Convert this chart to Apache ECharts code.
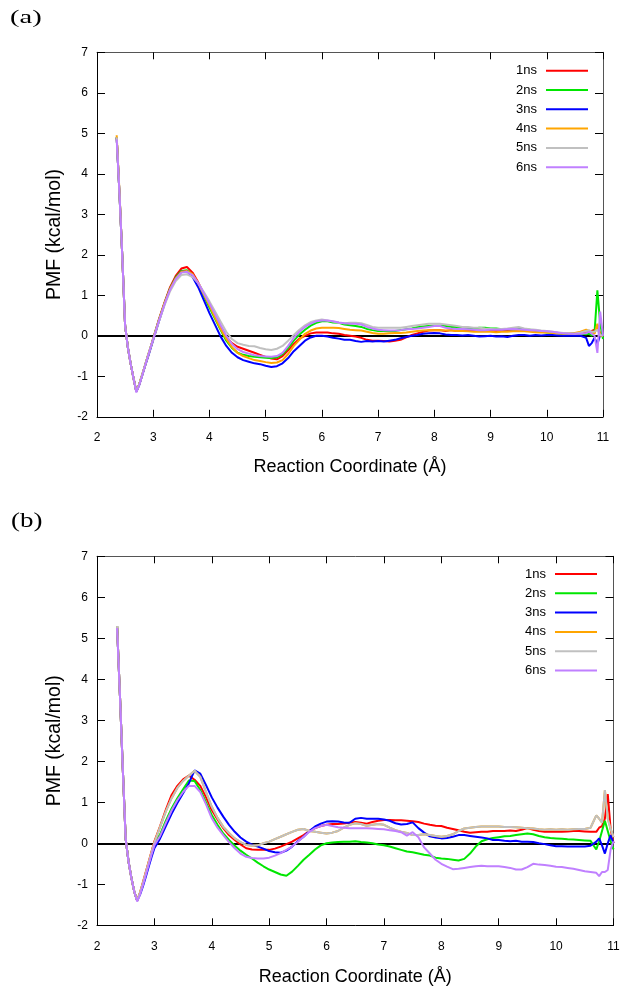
<!DOCTYPE html>
<html>
<head>
<meta charset="utf-8">
<script src="https://cdn.jsdelivr.net/npm/echarts@6/dist/echarts.min.js"></script>
<style>html,body{margin:0;padding:0;background:#fff}#c{width:630px;height:989px}</style>
</head>
<body>
<div id="c"></div>
<script>
// Shared reaction-coordinate samples (Å)
const xs = [2.35,2.4,2.45,2.5,2.55,2.6,2.65,2.7,2.75,2.8,2.85,2.9,2.95,3.0,
  3.1,3.2,3.3,3.4,3.5,3.6,3.7,3.8,3.9,4.0,
  4.1,4.2,4.3,4.4,4.5,4.6,4.7,4.8,4.9,5.0,
  5.1,5.2,5.3,5.4,5.5,5.6,5.7,5.8,5.9,6.0,
  6.1,6.2,6.3,6.4,6.5,6.6,6.7,6.8,6.9,7.0,
  7.1,7.2,7.3,7.4,7.5,7.6,7.7,7.8,7.9,8.0,
  8.1,8.2,8.3,8.4,8.5,8.6,8.7,8.8,8.9,9.0,
  9.1,9.2,9.3,9.4,9.5,9.6,9.7,9.8,9.9,10.0,
  10.1,10.2,10.3,10.4,10.5,10.6,10.7,
  10.75,10.8,10.85,10.9,10.95,11.0];

const seriesNames = ['1ns','2ns','3ns','4ns','5ns','6ns'];
const seriesColors = ['#ff0000','#00e600','#0000ff','#ffa500','#c0c0c0','#c080ff'];

// Panel (a)
const a1ns = [4.9,3.5,1.95,0.25,-0.3,-0.7,-1.05,-1.38,-1.2,-0.98,-0.75,-0.52,-0.3,-0.06,
  0.4,0.82,1.2,1.48,1.66,1.7,1.56,1.32,1.04,0.78,
  0.5,0.22,-0.03,-0.18,-0.27,-0.32,-0.37,-0.42,-0.47,-0.52,
  -0.56,-0.58,-0.5,-0.36,-0.2,-0.07,0.0,0.06,0.08,0.08,
  0.08,0.06,0.05,0.02,0.0,-0.02,-0.05,-0.1,-0.12,-0.12,
  -0.13,-0.14,-0.12,-0.1,-0.04,0.02,0.06,0.1,0.13,0.14,
  0.14,0.12,0.14,0.12,0.13,0.12,0.12,0.13,0.12,0.12,
  0.12,0.13,0.12,0.12,0.13,0.12,0.12,0.12,0.1,0.1,
  0.08,0.06,0.06,0.05,0.05,0.06,0.1,
  0.06,0.12,0.15,0.25,0.05,-0.02];
const a2ns = [4.9,3.5,1.95,0.25,-0.3,-0.7,-1.05,-1.38,-1.2,-0.98,-0.75,-0.52,-0.3,-0.07,
  0.38,0.8,1.17,1.44,1.6,1.62,1.5,1.27,0.98,0.7,
  0.42,0.14,-0.12,-0.3,-0.42,-0.47,-0.5,-0.52,-0.53,-0.54,
  -0.55,-0.53,-0.45,-0.3,-0.12,0.03,0.15,0.25,0.32,0.36,
  0.36,0.33,0.32,0.28,0.26,0.24,0.22,0.17,0.14,0.12,
  0.12,0.11,0.12,0.14,0.16,0.18,0.21,0.23,0.24,0.25,
  0.25,0.24,0.22,0.22,0.2,0.19,0.18,0.2,0.2,0.18,
  0.18,0.16,0.17,0.15,0.17,0.16,0.15,0.13,0.1,0.08,
  0.07,0.06,0.05,0.05,0.06,0.05,0.04,
  0.05,0.0,0.1,1.12,0.3,-0.08];
const a3ns = [4.9,3.5,1.95,0.25,-0.3,-0.7,-1.05,-1.38,-1.22,-1.0,-0.77,-0.55,-0.33,-0.1,
  0.35,0.78,1.15,1.42,1.58,1.6,1.45,1.2,0.88,0.56,
  0.27,-0.02,-0.25,-0.42,-0.53,-0.6,-0.64,-0.68,-0.7,-0.74,
  -0.77,-0.75,-0.68,-0.55,-0.38,-0.25,-0.12,-0.04,0.0,0.0,
  -0.02,-0.05,-0.07,-0.1,-0.1,-0.13,-0.15,-0.13,-0.14,-0.13,
  -0.14,-0.12,-0.1,-0.06,-0.03,0.0,0.02,0.05,0.06,0.07,
  0.06,0.03,0.02,0.02,0.01,0.02,0.0,-0.02,-0.01,0.0,
  -0.02,-0.01,-0.03,0.0,0.02,0.02,0.0,0.02,0.01,0.02,
  0.02,0.01,0.0,0.0,0.0,0.0,-0.05,
  -0.25,-0.18,-0.05,-0.2,0.02,0.0];
const a4ns = [4.95,3.55,1.95,0.25,-0.3,-0.7,-1.05,-1.38,-1.2,-0.98,-0.75,-0.52,-0.3,-0.08,
  0.37,0.8,1.16,1.42,1.58,1.6,1.52,1.3,1.02,0.75,
  0.45,0.17,-0.08,-0.28,-0.42,-0.5,-0.55,-0.6,-0.62,-0.65,
  -0.67,-0.66,-0.6,-0.45,-0.25,-0.1,0.05,0.13,0.18,0.2,
  0.2,0.2,0.19,0.17,0.15,0.14,0.13,0.1,0.07,0.05,
  0.05,0.06,0.07,0.07,0.08,0.1,0.12,0.13,0.14,0.14,
  0.14,0.13,0.13,0.12,0.12,0.11,0.1,0.1,0.1,0.1,
  0.09,0.1,0.1,0.11,0.12,0.11,0.1,0.09,0.08,0.08,
  0.07,0.06,0.05,0.06,0.07,0.1,0.15,
  0.12,0.08,0.05,0.3,0.0,0.0];
const a5ns = [4.9,3.5,1.95,0.25,-0.3,-0.7,-1.05,-1.38,-1.2,-0.98,-0.75,-0.52,-0.3,-0.08,
  0.35,0.75,1.1,1.35,1.5,1.52,1.45,1.3,1.08,0.85,
  0.6,0.35,0.1,-0.08,-0.18,-0.22,-0.25,-0.26,-0.3,-0.33,
  -0.35,-0.32,-0.25,-0.12,0.02,0.15,0.26,0.34,0.38,0.4,
  0.38,0.35,0.32,0.31,0.32,0.32,0.31,0.27,0.22,0.2,
  0.2,0.2,0.2,0.2,0.22,0.24,0.26,0.28,0.3,0.3,
  0.3,0.28,0.26,0.24,0.22,0.22,0.2,0.2,0.18,0.17,
  0.16,0.17,0.18,0.2,0.22,0.18,0.16,0.15,0.13,0.12,
  0.1,0.08,0.07,0.06,0.05,0.08,0.12,
  0.14,0.1,0.1,0.15,0.02,0.0];
const a6ns = [4.85,3.5,1.95,0.25,-0.3,-0.7,-1.05,-1.4,-1.22,-1.0,-0.76,-0.53,-0.3,-0.08,
  0.37,0.78,1.14,1.4,1.56,1.58,1.5,1.3,1.05,0.8,
  0.53,0.26,0.0,-0.2,-0.33,-0.4,-0.44,-0.48,-0.5,-0.51,
  -0.52,-0.5,-0.42,-0.25,-0.05,0.1,0.22,0.3,0.36,0.38,
  0.38,0.36,0.33,0.31,0.3,0.3,0.28,0.22,0.18,0.15,
  0.14,0.13,0.13,0.14,0.16,0.17,0.18,0.2,0.22,0.24,
  0.24,0.2,0.18,0.17,0.17,0.16,0.15,0.14,0.14,0.15,
  0.15,0.15,0.16,0.17,0.16,0.15,0.14,0.13,0.12,0.11,
  0.1,0.08,0.06,0.05,0.05,0.05,0.06,
  0.1,0.05,0.0,-0.42,0.6,0.0];

// Panel (b)
const b1ns = [5.3,3.6,1.8,0.1,-0.45,-0.85,-1.18,-1.4,-1.2,-0.95,-0.7,-0.45,-0.2,0.05,
  0.42,0.82,1.18,1.4,1.56,1.65,1.55,1.4,1.12,0.81,
  0.58,0.37,0.2,0.08,-0.03,-0.12,-0.15,-0.16,-0.16,-0.16,
  -0.13,-0.08,-0.02,0.04,0.12,0.2,0.3,0.37,0.42,0.45,
  0.47,0.47,0.48,0.5,0.52,0.5,0.48,0.52,0.55,0.57,
  0.57,0.56,0.56,0.55,0.54,0.52,0.48,0.45,0.43,0.42,
  0.38,0.35,0.32,0.28,0.26,0.27,0.28,0.28,0.3,0.3,
  0.3,0.31,0.3,0.33,0.37,0.33,0.3,0.28,0.28,0.28,
  0.28,0.29,0.3,0.3,0.29,0.28,0.28,
  0.38,0.42,0.6,1.2,0.35,0.0];
const b2ns = [5.3,3.6,1.8,0.1,-0.45,-0.85,-1.18,-1.4,-1.22,-1.0,-0.76,-0.5,-0.25,-0.02,
  0.22,0.55,0.85,1.1,1.32,1.53,1.52,1.3,1.0,0.69,
  0.45,0.24,0.08,-0.06,-0.18,-0.28,-0.37,-0.47,-0.56,-0.64,
  -0.7,-0.76,-0.79,-0.69,-0.55,-0.4,-0.28,-0.15,-0.05,0.0,
  0.02,0.03,0.04,0.04,0.05,0.03,0.02,0.0,-0.03,-0.05,
  -0.08,-0.12,-0.16,-0.2,-0.22,-0.25,-0.28,-0.3,-0.35,-0.37,
  -0.38,-0.4,-0.42,-0.38,-0.25,-0.08,0.05,0.1,0.13,0.15,
  0.17,0.18,0.2,0.22,0.24,0.22,0.18,0.15,0.13,0.12,
  0.11,0.1,0.09,0.08,0.07,0.06,-0.15,
  0.05,0.3,0.55,0.3,0.05,-0.15];
const b3ns = [5.3,3.6,1.8,0.1,-0.45,-0.85,-1.18,-1.4,-1.25,-1.05,-0.82,-0.58,-0.34,-0.12,
  0.12,0.42,0.72,0.98,1.22,1.46,1.78,1.7,1.42,1.12,
  0.87,0.65,0.45,0.28,0.14,0.04,-0.03,-0.08,-0.13,-0.19,
  -0.22,-0.23,-0.18,-0.08,0.05,0.16,0.3,0.41,0.48,0.53,
  0.54,0.53,0.51,0.5,0.6,0.62,0.6,0.6,0.6,0.58,
  0.55,0.49,0.46,0.47,0.51,0.37,0.26,0.17,0.14,0.12,
  0.13,0.16,0.2,0.2,0.18,0.16,0.14,0.12,0.08,0.08,
  0.06,0.05,0.06,0.04,0.04,0.03,0.0,-0.02,-0.05,-0.07,
  -0.07,-0.08,-0.08,-0.08,-0.08,-0.06,0.04,
  0.12,-0.05,-0.25,0.0,0.2,0.0];
const b4ns = [5.3,3.6,1.8,0.1,-0.45,-0.85,-1.18,-1.4,-1.2,-0.97,-0.72,-0.47,-0.22,0.02,
  0.4,0.78,1.1,1.35,1.52,1.65,1.77,1.62,1.25,0.89,
  0.62,0.4,0.25,0.12,0.03,-0.04,-0.06,-0.05,0.0,0.04,
  0.1,0.16,0.22,0.28,0.33,0.35,0.3,0.28,0.26,0.24,
  0.26,0.3,0.38,0.45,0.49,0.47,0.43,0.45,0.47,0.45,
  0.38,0.32,0.28,0.25,0.2,0.2,0.22,0.2,0.18,0.16,
  0.18,0.22,0.3,0.36,0.38,0.4,0.41,0.41,0.41,0.41,
  0.4,0.4,0.39,0.38,0.37,0.36,0.34,0.33,0.34,0.33,
  0.34,0.33,0.34,0.35,0.35,0.38,0.68,
  0.6,0.5,1.3,0.6,0.35,0.15];
const b5ns = [5.3,3.6,1.8,0.1,-0.45,-0.85,-1.18,-1.4,-1.2,-0.97,-0.72,-0.47,-0.22,0.02,
  0.4,0.78,1.1,1.35,1.52,1.65,1.77,1.62,1.25,0.89,
  0.62,0.4,0.25,0.12,0.03,-0.04,-0.06,-0.05,0.0,0.04,
  0.1,0.16,0.22,0.28,0.33,0.35,0.3,0.28,0.26,0.24,
  0.26,0.3,0.38,0.45,0.49,0.47,0.43,0.45,0.47,0.45,
  0.38,0.32,0.28,0.25,0.2,0.2,0.22,0.2,0.18,0.16,
  0.18,0.22,0.3,0.36,0.38,0.4,0.41,0.41,0.41,0.41,
  0.4,0.4,0.39,0.38,0.37,0.36,0.34,0.33,0.34,0.33,
  0.34,0.33,0.34,0.35,0.35,0.38,0.68,
  0.6,0.5,1.3,0.6,0.35,0.15];
const b6ns = [5.25,3.6,1.8,0.1,-0.45,-0.85,-1.18,-1.42,-1.25,-1.02,-0.78,-0.53,-0.28,-0.05,
  0.18,0.5,0.8,1.05,1.25,1.4,1.4,1.25,0.95,0.61,
  0.38,0.2,0.03,-0.12,-0.25,-0.33,-0.36,-0.37,-0.37,-0.35,
  -0.3,-0.24,-0.16,-0.08,0.04,0.16,0.28,0.37,0.42,0.45,
  0.42,0.39,0.38,0.37,0.37,0.37,0.37,0.36,0.35,0.34,
  0.32,0.3,0.27,0.19,0.27,0.15,-0.1,-0.25,-0.4,-0.5,
  -0.57,-0.63,-0.62,-0.6,-0.58,-0.56,-0.55,-0.56,-0.56,-0.56,
  -0.58,-0.6,-0.64,-0.64,-0.58,-0.5,-0.52,-0.53,-0.55,-0.57,
  -0.58,-0.6,-0.62,-0.65,-0.68,-0.7,-0.72,
  -0.8,-0.7,-0.7,-0.65,-0.15,0.05];

const panelA = [a1ns,a2ns,a3ns,a4ns,a5ns,a6ns];
const panelB = [b1ns,b2ns,b3ns,b4ns,b5ns,b6ns];

const xTicksMin = 2, xTicksMax = 11, yTicksMin = -2, yTicksMax = 7;
const panelLabels = ['(a)','(b)'];
const xName = 'Reaction Coordinate (Å)';
const yName = 'PMF (kcal/mol)';

const FONT = '"Liberation Sans", Arial, sans-serif';
const SERIF = '"Liberation Serif", "Times New Roman", serif';
const grids = [
  {left: 97, top: 52.3, width: 506, height: 364.5},
  {left: 97, top: 556.3, width: 516.5, height: 369}
];

const xAxes = [], yAxes = [], series = [];
grids.forEach((g, gi) => {
  xAxes.push({
    gridIndex: gi, type: 'value', position: 'bottom', min: xTicksMin, max: xTicksMax, interval: 1,
    axisLine: {show: true, onZero: false, lineStyle: {color: '#000', width: 1}},
    axisTick: {show: true, inside: true, length: 7, lineStyle: {color: '#000', width: 1}},
    axisLabel: {color: '#000', fontSize: 12, fontFamily: FONT, margin: 15},
    splitLine: {show: false},
    name: xName, nameLocation: 'middle', nameGap: gi === 0 ? 41 : 43,
    nameTextStyle: {color: '#000', fontSize: 18, fontFamily: FONT}
  });
  xAxes.push({
    gridIndex: gi, type: 'value', position: 'top', min: xTicksMin, max: xTicksMax, interval: 1,
    axisLine: {show: true, onZero: false, lineStyle: {color: '#555', width: 1}},
    axisTick: {show: true, inside: true, length: 7, lineStyle: {color: '#000', width: 1}},
    axisLabel: {show: false}, splitLine: {show: false}
  });
  yAxes.push({
    gridIndex: gi, type: 'value', position: 'left', min: yTicksMin, max: yTicksMax, interval: 1,
    axisLine: {show: true, onZero: false, lineStyle: {color: '#000', width: 1}},
    axisTick: {show: true, inside: true, length: 8, lineStyle: {color: '#000', width: 1}},
    axisLabel: {color: '#000', fontSize: 12, fontFamily: FONT, margin: 9},
    splitLine: {show: false},
    name: yName, nameLocation: 'middle', nameGap: 32, nameRotate: 90,
    nameTextStyle: {color: '#000', fontSize: 19.5, fontFamily: FONT}
  });
  yAxes.push({
    gridIndex: gi, type: 'value', position: 'right', min: yTicksMin, max: yTicksMax, interval: 1,
    axisLine: {show: true, onZero: false, lineStyle: {color: '#555', width: 1}},
    axisTick: {show: true, inside: true, length: 8, lineStyle: {color: '#000', width: 1}},
    axisLabel: {show: false}, splitLine: {show: false}
  });
  const data = gi === 0 ? panelA : panelB;
  data.forEach((arr, si) => {
    const s = {
      name: seriesNames[si], type: 'line', xAxisIndex: gi * 2, yAxisIndex: gi * 2,
      data: xs.map((x, i) => [x, arr[i]]),
      showSymbol: false, symbol: 'none', smooth: false, z: 3 + si,
      lineStyle: {color: seriesColors[si], width: 2},
      itemStyle: {color: seriesColors[si]},
      animation: false
    };
    if (si === 0) {
      s.markLine = {
        silent: true, symbol: ['none', 'none'], animation: false, z: 1,
        label: {show: false},
        lineStyle: {color: '#000', width: 2, type: 'solid'},
        data: [{yAxis: 0}]
      };
    }
    series.push(s);
  });
});

const legendCommon = {
  orient: 'vertical', align: 'right', icon: 'rect', itemWidth: 42, itemHeight: 2,
  itemGap: 5.3, padding: 0, selectedMode: false, data: seriesNames,
  textStyle: {color: '#000', fontSize: 13, fontFamily: FONT, lineHeight: 14, padding: [0, 4, 0, 0]}
};

const chart = echarts.init(document.getElementById('c'), null, {renderer: 'canvas'});
chart.setOption({
  backgroundColor: '#fff',
  animation: false,
  graphic: [
    {type: 'text', x: 10, y: 9, scaleX: 1.5, silent: true,
     style: {text: panelLabels[0], font: '19px ' + SERIF, fill: '#000', textVerticalAlign: 'top'}},
    {type: 'text', x: 11, y: 512, scaleX: 1.35, silent: true,
     style: {text: panelLabels[1], font: '20px ' + SERIF, fill: '#000', textVerticalAlign: 'top'}}
  ],
  legend: [
    Object.assign({}, legendCommon, {right: 42, top: 63.7}),
    Object.assign({}, legendCommon, {right: 33, top: 567})
  ],
  grid: grids,
  xAxis: xAxes,
  yAxis: yAxes,
  series: series
});
</script>
</body>
</html>
